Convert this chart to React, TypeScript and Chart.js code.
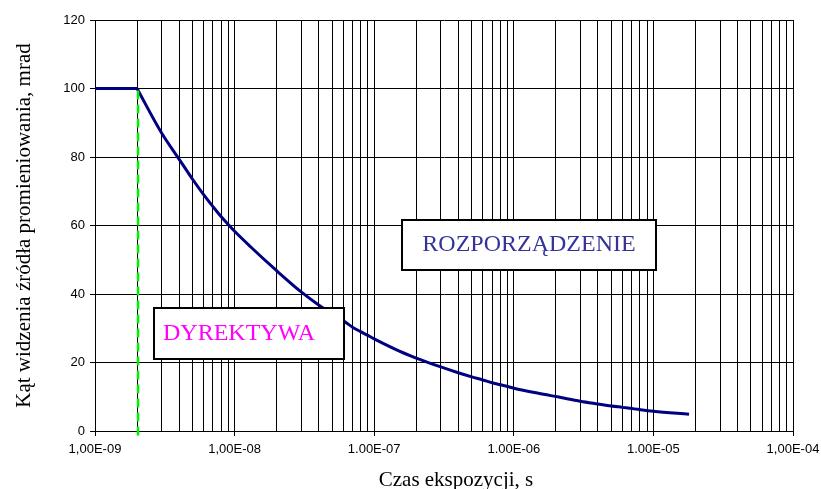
import React, { useEffect, useRef } from "react";
import { Chart, registerables } from "chart.js";

Chart.register(...registerables);

// Exposure time (s) and source angle (mrad)
const exposureTimes = [
  1e-9, 2e-9, 3e-9, 4e-9, 5e-9, 6e-9, 7e-9, 8e-9, 9e-9, 1e-8, 1.3e-8, 2e-8, 3e-8, 4e-8,
  6.3e-8, 7e-8, 8e-8, 9e-8, 1e-7, 1.5e-7, 2e-7, 3e-7, 4e-7, 5e-7, 6e-7, 7e-7, 8e-7, 9e-7,
  1e-6, 1.5e-6, 2.1e-6, 3e-6, 4e-6, 5e-6, 6e-6, 7e-6, 8e-6, 1e-5, 1.8e-5,
];
const angleValues = [
  100, 100, 87.0, 79.4, 73.5, 69.0, 65.5, 62.6, 60.3, 58.3, 53.8, 46.8, 40.6, 36.8,
  31.6, 30.3, 29.0, 27.9, 26.9, 23.4, 21.3, 18.7, 17.0, 15.8, 14.9, 14.1, 13.5, 13.0,
  12.5, 11.0, 9.9, 8.7, 7.9, 7.3, 6.9, 6.55, 6.25, 5.8, 4.9,
];
// index where the plateau ends and the decreasing part starts
const plateauEnd = 1;

// Directive limit time (vertical dashed line)
const directiveTime = 2e-9;
const directiveTop = 100;

const decadeExponents = [-9, -8, -7, -6, -5];
const lastDecade = 1e-4;
const xTickLabels = ["1,00E-09", "1,00E-08", "1.00E-07", "1.00E-06", "1.00E-05", "1,00E-04"];
const yTickStep = 20;

const xTitle = "Czas ekspozycji, s";
const yTitle = "Kąt widzenia źródła promieniowania, mrad";
const label1 = "DYREKTYWA";
const label2 = "ROZPORZĄDZENIE";

const tickValues: number[] = [];
decadeExponents.forEach((e) => {
  for (let k = 1; k <= 9; k++) tickValues.push(k * Math.pow(10, e));
});
tickValues.push(lastDecade);

const SANS = '"Liberation Sans", Arial, sans-serif';
const SERIF = '"Liberation Serif", "Times New Roman", serif';

const overlayPlugin = {
  id: "overlay",
  afterDatasetsDraw(chart: any) {
    const ctx = chart.ctx;
    const xs = chart.scales.x;
    const ys = chart.scales.y;
    const area = chart.chartArea;
    ctx.save();
    // green dashed directive line
    const gx = xs.getPixelForValue(directiveTime);
    ctx.strokeStyle = "#00f000";
    ctx.lineWidth = 2.5;
    ctx.setLineDash([9, 5]);
    ctx.beginPath();
    ctx.moveTo(gx + 1, ys.getPixelForValue(directiveTop) + 2);
    ctx.lineTo(gx + 1, area.bottom + 7);
    ctx.stroke();
    ctx.setLineDash([]);

    // boxes
    ctx.lineWidth = 2;
    ctx.strokeStyle = "#000";
    ctx.fillStyle = "#fff";
    ctx.fillRect(154, 308, 190, 51);
    ctx.strokeRect(154, 308, 190, 51);
    ctx.font = "24px " + SERIF;
    ctx.fillStyle = "#ff00ff";
    ctx.textAlign = "left";
    ctx.textBaseline = "alphabetic";
    ctx.fillText(label1, 163, 340);

    ctx.fillStyle = "#fff";
    ctx.fillRect(402, 220, 254, 50);
    ctx.strokeRect(402, 220, 254, 50);
    ctx.fillStyle = "#333399";
    ctx.textAlign = "center";
    ctx.fillText(label2, 529, 251);

    // x axis title
    ctx.fillStyle = "#000";
    ctx.font = "21px " + SERIF;
    ctx.textAlign = "center";
    ctx.fillText(xTitle, (area.left + area.right) / 2 + 12, chart.height - 3);
    ctx.restore();
  },
};

export default function App() {
  const ref = useRef<HTMLCanvasElement>(null);
  useEffect(() => {
    if (!ref.current) return;
    const points = exposureTimes.map((t, i) => ({ x: t, y: angleValues[i] }));
    const chart = new Chart(ref.current, {
      type: "line",
      data: {
        datasets: [
          {
            data: points.slice(0, plateauEnd + 1),
            borderColor: "#000080",
            borderWidth: 3,
            pointRadius: 0,
            tension: 0,
            fill: false,
          },
          {
            data: points.slice(plateauEnd),
            borderColor: "#000080",
            borderWidth: 3,
            pointRadius: 0,
            cubicInterpolationMode: "monotone",
            fill: false,
          },
        ],
      },
      options: {
        animation: false,
        responsive: false,
        plugins: { legend: { display: false }, tooltip: { enabled: false } },
        layout: { padding: { top: 20, right: 28, left: 0, bottom: 0 } },
        scales: {
          x: {
            type: "logarithmic",
            min: 1e-9,
            max: 1e-4,
            afterBuildTicks: (s: any) => {
              s.ticks = tickValues.map((v) => ({ value: v }));
            },
            afterFit: (s: any) => {
              s.height = 58;
              s.paddingRight = 0;
              s.paddingLeft = 0;
            },
            ticks: {
              autoSkip: false,
              maxRotation: 0,
              minRotation: 0,
              padding: 6,
              color: "#000",
              font: { family: SANS, size: 13 },
              callback: (_v: any, i: number) => (i % 9 === 0 ? xTickLabels[i / 9] : ""),
            },
            grid: {
              color: "#000",
              lineWidth: 1,
              tickLength: 5,
              tickColor: (c: any) => (c.index % 9 === 0 ? "#000" : "rgba(0,0,0,0)"),
            },
            border: { color: "#000", width: 1 },
          },
          y: {
            min: 0,
            max: 120,
            afterFit: (s: any) => {
              s.width = 95;
              s.paddingTop = 0;
              s.paddingBottom = 0;
            },
            ticks: {
              stepSize: yTickStep,
              padding: 5,
              color: "#000",
              font: { family: SANS, size: 13 },
            },
            grid: { color: "#000", lineWidth: 1, tickLength: 5, tickColor: "#000" },
            border: { color: "#000", width: 1 },
            title: {
              display: true,
              text: yTitle,
              color: "#000",
              font: { family: SERIF, size: 21, lineHeight: 1.2 },
              padding: { top: 12, bottom: 0 },
            },
          },
        },
      },
      plugins: [overlayPlugin],
    } as any);
    return () => chart.destroy();
  }, []);
  return (
    <div style={{ position: "absolute", left: 0, top: 0, width: 821, height: 489, background: "#fff" }}>
      <canvas ref={ref} width={821} height={489} style={{ display: "block" }} />
    </div>
  );
}
